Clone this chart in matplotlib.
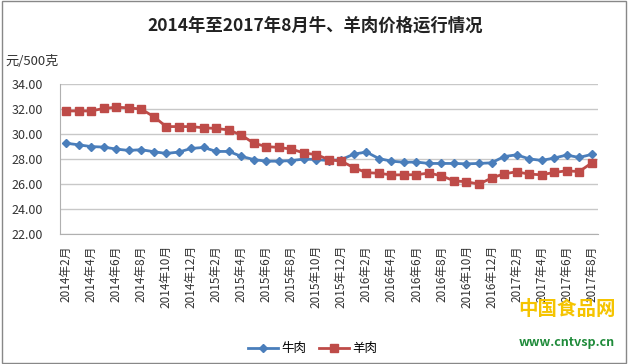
import matplotlib
matplotlib.use("Agg")
import matplotlib.pyplot as plt
from matplotlib.patches import Rectangle
import numpy as np

plt.rcParams['font.family'] = ['Noto Sans CJK SC', 'DejaVu Sans']

# months 2014-2 .. 2017-8
months = []
for y, m0, m1 in [(2014, 2, 12), (2015, 1, 12), (2016, 1, 12), (2017, 1, 8)]:
    for m in range(m0, m1 + 1):
        months.append("%d年%d月" % (y, m))

beef = [29.27, 29.14, 29.00, 28.96, 28.80, 28.69, 28.75, 28.59, 28.45, 28.56,
        28.85, 28.93, 28.61, 28.61, 28.22, 27.96, 27.83, 27.83, 27.88, 28.00,
        27.96, 27.88, 27.96, 28.40, 28.56, 28.04, 27.83, 27.75, 27.76, 27.65,
        27.65, 27.65, 27.62, 27.65, 27.70, 28.20, 28.34, 28.02, 27.89, 28.08,
        28.32, 28.13, 28.37]
mutton = [31.85, 31.85, 31.85, 32.05, 32.15, 32.10, 32.00, 31.40, 30.60, 30.60,
          30.60, 30.50, 30.45, 30.33, 29.92, 29.27, 29.00, 28.93, 28.80, 28.49,
          28.35, 27.96, 27.83, 27.31, 26.92, 26.86, 26.73, 26.74, 26.75, 26.88,
          26.66, 26.26, 26.18, 26.00, 26.48, 26.82, 26.98, 26.80, 26.74, 26.93,
          27.06, 27.00, 27.68]
yticks = [22, 24, 26, 28, 30, 32, 34]

fig = plt.figure(figsize=(6.3, 3.64), dpi=100)
ax = fig.add_axes([0.095, 0.357, 0.854, 0.412])

x = np.arange(len(months))
ax.plot(x, beef, color='#4A7EBB', marker='D', markersize=4, linewidth=2, label='牛肉')
ax.plot(x, mutton, color='#BE4B48', marker='s', markersize=6, linewidth=2, label='羊肉')

ax.set_xlim(-0.5, len(months) - 0.5)
ax.set_ylim(22, 34)
ax.set_yticks(yticks)
ax.set_yticklabels(["%.2f" % v for v in yticks], fontsize=9, color='#333333')
ax.set_xticks(x[::2])
ax.set_xticklabels(months[::2], rotation=90, fontsize=8.5, color='#333333')
ax.tick_params(length=0, pad=8)
ax.tick_params(axis='y', pad=12)
ax.grid(axis='y', color='#c8c8c8', linewidth=1)
ax.set_axisbelow(True)
for s in ['top', 'right']:
    ax.spines[s].set_visible(False)
for s in ['left', 'bottom']:
    ax.spines[s].set_color('#b0b0b0')

fig.text(0.5, 0.93, "2014年至2017年8月牛、羊肉价格运行情况", ha='center', va='center',
         fontsize=12.5, fontweight='bold', color='#222222')
fig.text(0.008, 0.83, "元/500克", ha='left', va='center', fontsize=9.5, color='#333333')

ax.legend(loc='center', bbox_to_anchor=(0.47, -0.765), ncol=2, frameon=False,
          fontsize=9, handlelength=2.4, columnspacing=1.0, handletextpad=0.3)

# watermark text
fig.text(0.9, 0.15, "中国食品网", ha='center', va='center', fontsize=14,
         fontweight='bold', color='#F5C400')
fig.text(0.9, 0.06, "www.cntvsp.cn", ha='center', va='center', fontsize=9,
         fontweight='bold', color='#1F8B3A')

fig.patches.append(Rectangle((0.003, 0.003), 0.99, 0.994, transform=fig.transFigure,
                             fill=False, edgecolor='#888888', linewidth=1))

fig.savefig("out.png", dpi=100)
